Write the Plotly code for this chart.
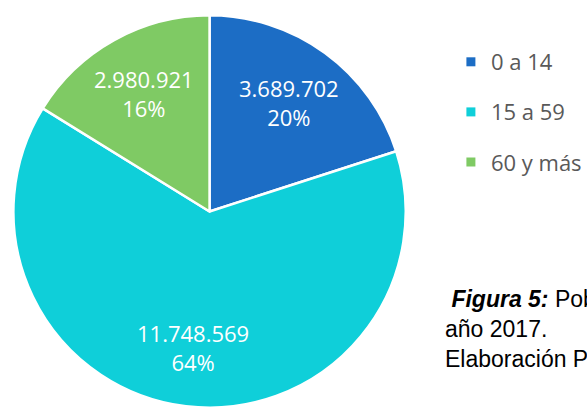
import math
import plotly.graph_objects as go

W, H = 587, 409

categories = ["0 a 14", "15 a 59", "60 y más"]
values = [3689702, 11748569, 2980921]
colors = ["#1C6DC5", "#0FCFD9", "#7FCA64"]

caption_lines = [
    "&nbsp;<b><i>Figura 5:</i></b> Población por grupos de edad, Perú,",
    "año 2017.",
    "Elaboración Propia.",
]

# pie geometry (pixels): top of the pie at 14 px, bottom clipped by the page
CX, TOP = 211, 14
R = (H - TOP) / 2
CY = TOP + R

fig = go.Figure()
fig.add_trace(
    go.Pie(
        labels=categories,
        values=values,
        sort=False,
        direction="clockwise",
        rotation=0,
        marker=dict(colors=colors, line=dict(color="white", width=2.5)),
        textinfo="none",
        hoverinfo="label+value+percent",
        showlegend=False,
        domain=dict(x=[(CX - R) / W, (CX + R) / W], y=[0, 1 - TOP / H]),
    )
)

# legend entries (one group each so the spacing can match)
for cat, col in zip(categories, colors):
    fig.add_trace(
        go.Scatter(
            x=[None], y=[None], mode="markers", name=cat, legendgroup=cat,
            marker=dict(symbol="square", size=9, color=col), hoverinfo="skip",
        )
    )

# slice labels placed along each slice's middle angle
total = sum(values)
annotations = []
cum = 0
for v in values:
    frac = v / total
    mid = (cum + frac / 2) * 2 * math.pi
    cum += frac
    px = CX + 0.69 * R * math.sin(mid)
    py = CY + 1 - 0.69 * R * math.cos(mid)
    txt = f"{v:,}".replace(",", ".") + "<br>" + f"{round(frac * 100)}%"
    annotations.append(
        dict(
            text=txt, xref="paper", yref="paper", x=px / W, y=1 - py / H,
            xanchor="center", yanchor="middle", showarrow=False,
            font=dict(family="Open Sans", size=22, color="white"),
        )
    )

annotations.append(
    dict(
        text="<br>".join(caption_lines),
        xref="paper", yref="paper", x=446 / W, y=1 - 329 / H,
        xanchor="left", yanchor="middle", align="left", showarrow=False,
        font=dict(family="Liberation Sans", size=23, color="black"),
    )
)

fig.update_layout(
    width=W,
    height=H,
    margin=dict(l=0, r=0, t=0, b=0),
    paper_bgcolor="white",
    plot_bgcolor="white",
    xaxis=dict(visible=False),
    yaxis=dict(visible=False),
    showlegend=True,
    legend=dict(
        x=454 / W, xanchor="left",
        y=1 - 41 / H, yanchor="top",
        font=dict(family="Open Sans", size=22, color="#595959"),
        tracegroupgap=18.5,
        bgcolor="rgba(0,0,0,0)",
    ),
    annotations=annotations,
)

fig.write_html(
    "out.html",
    config={"displayModeBar": False},
    post_script=(
        "document.body.style.margin='0';"
        "document.body.style.overflow='hidden';"
        "document.documentElement.style.overflow='hidden';"
    ),
)
